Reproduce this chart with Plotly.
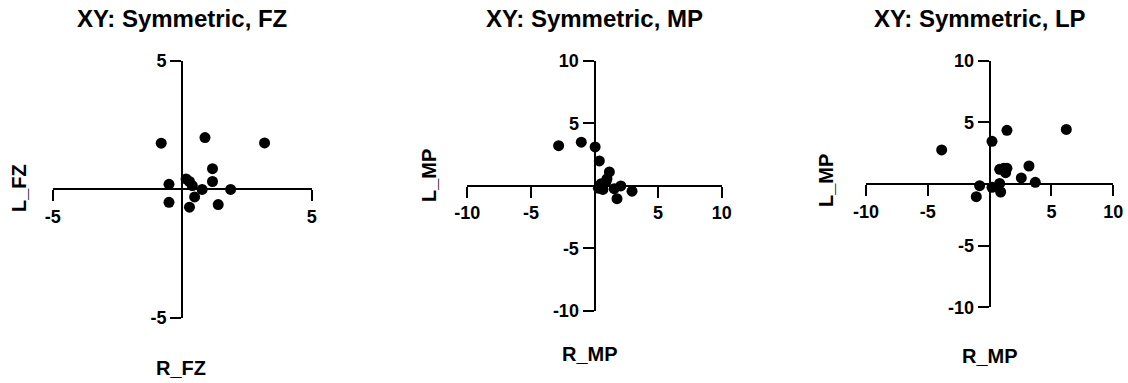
import plotly.graph_objects as go

W, H = 1128, 383

# Panel 1: FZ
fz_r = [-0.81, 0.88, 3.18, 1.17, 1.17, 0.15, 0.28, 0.39, 0.77, 1.87, -0.51, -0.51, 0.48, 0.28, 1.39]
fz_l = [1.79, 2.01, 1.80, 0.80, 0.30, 0.40, 0.30, 0.14, -0.01, -0.01, 0.19, -0.51, -0.30, -0.70, -0.60]

# Panel 2: MP
mp_r = [-2.82, -1.04, 0.05, 0.38, 1.17, 0.98, 0.52, 0.31, 0.66, 1.55, 2.07, 2.95, 1.77, 0.90]
mp_l = [3.20, 3.48, 3.10, 1.98, 1.10, 0.55, 0.16, -0.20, -0.30, -0.24, -0.02, -0.44, -1.04, 0.30]

# Panel 3: LP
lp_r = [-3.88, 0.19, 1.40, 6.20, 0.81, 1.13, 1.40, 1.29, 3.18, 2.56, 3.69, 0.81, -0.81, 0.19, 0.89, -1.08]
lp_l = [2.76, 3.46, 4.35, 4.43, 1.19, 1.27, 1.27, 0.92, 1.46, 0.49, 0.14, 0.05, -0.14, -0.27, -0.65, -1.03]

titles = ["XY: Symmetric, FZ", "XY: Symmetric, MP", "XY: Symmetric, LP"]
x_titles = ["R_FZ", "R_MP", "R_MP"]
y_titles = ["L_FZ", "L_MP", "L_MP"]
ticks_fz = [-5, 5]
ticks_mp = [-10, -5, 5, 10]

FONT = "Liberation Sans"

# pixel geometry of each panel: (x_left, x_right, y_top, y_bottom)
panels = [
    (52.7, 311.7, 60.7, 317.7),
    (467.3, 721.7, 60.7, 310.7),
    (866.0, 1113.3, 60.7, 307.3),
]
ranges = [5, 10, 10]
tickvals = [ticks_fz, ticks_mp, ticks_mp]
data = [(fz_r, fz_l), (mp_r, mp_l), (lp_r, lp_l)]

fig = go.Figure()
layout = dict(
    width=W, height=H,
    margin=dict(l=0, r=0, t=0, b=0, autoexpand=False),
    paper_bgcolor="white", plot_bgcolor="white",
    showlegend=False,
    font=dict(family=FONT, color="black"),
)
annotations = []

title_x = [182, 594, 980]
xt_pos = [(181, 368), (590, 354), (990, 356)]
yt_pos = [(19, 188), (429, 176), (826, 181)]

for i, ((xl, xr, yt, yb), rg, tv, (xs, ys)) in enumerate(zip(panels, ranges, tickvals, data)):
    n = "" if i == 0 else str(i + 1)
    xdom = [xl / W, xr / W]
    ydom = [1 - yb / H, 1 - yt / H]
    xmid = (xdom[0] + xdom[1]) / 2
    ymid = (ydom[0] + ydom[1]) / 2
    axcommon = dict(
        showgrid=False, zeroline=False, showline=True,
        linecolor="black", linewidth=2,
        ticks="outside", ticklen=11, tickwidth=2, tickcolor="black",
        tickvals=tv, ticktext=[str(v) for v in tv],
        tickfont=dict(family=FONT, size=18, color="black", weight="bold"),
        range=[-rg, rg], fixedrange=True, automargin=False,
    )
    layout["xaxis" + n] = dict(axcommon, domain=xdom, anchor="free", position=ymid)
    layout["yaxis" + n] = dict(axcommon, domain=ydom, anchor="free", position=xmid)
    fig.add_trace(go.Scatter(
        x=xs, y=ys, mode="markers",
        marker=dict(color="black", size=11),
        xaxis="x" + n, yaxis="y" + n,
    ))
    annotations.append(dict(
        text="<b>" + titles[i] + "</b>", x=title_x[i] / W, y=1 - 18 / H,
        xref="paper", yref="paper", showarrow=False,
        xanchor="center", yanchor="middle",
        font=dict(family=FONT, size=24, color="black"),
    ))
    annotations.append(dict(
        text="<b>" + x_titles[i] + "</b>", x=xt_pos[i][0] / W, y=1 - xt_pos[i][1] / H,
        xref="paper", yref="paper", showarrow=False,
        xanchor="center", yanchor="middle",
        font=dict(family=FONT, size=20, color="black"),
    ))
    annotations.append(dict(
        text="<b>" + y_titles[i] + "</b>", x=yt_pos[i][0] / W, y=1 - yt_pos[i][1] / H,
        xref="paper", yref="paper", showarrow=False, textangle=-90,
        xanchor="center", yanchor="middle",
        font=dict(family=FONT, size=20, color="black"),
    ))

layout["annotations"] = annotations
fig.update_layout(**layout)
fig.write_html("out.html")
